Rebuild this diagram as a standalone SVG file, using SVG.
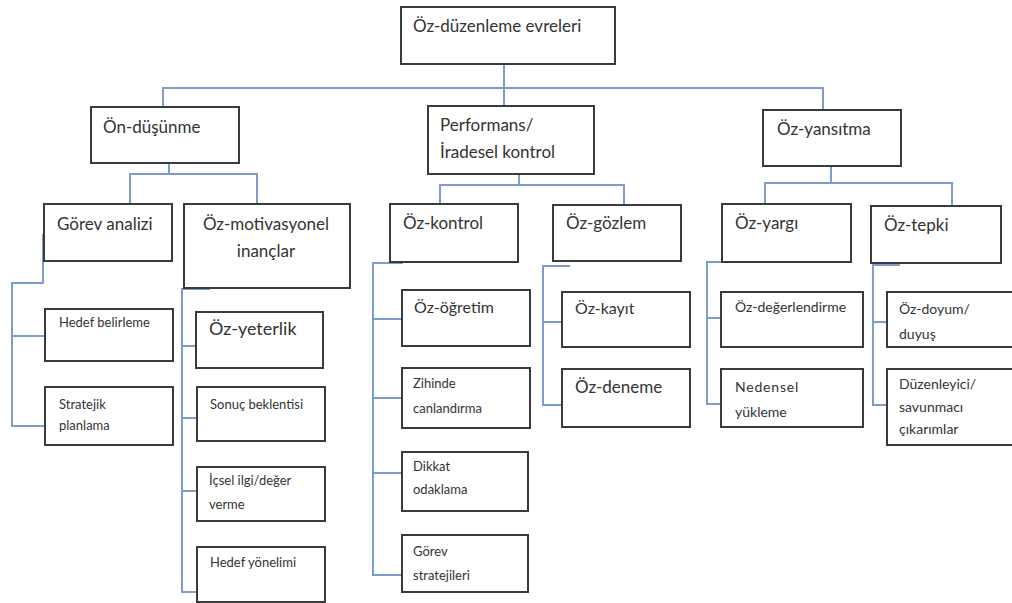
<svg xmlns="http://www.w3.org/2000/svg" width="1012" height="603" viewBox="0 0 1012 603">
<style>
rect.b{fill:#fff;stroke:#3a3a3a;stroke-width:2}
.c path{fill:none;stroke:#7c9ccb;stroke-width:2}
text{font-family:Lato,"Open Sans",sans-serif;fill:#333}
.l{font-size:17px}
.m{font-size:16px}
.s{font-size:13px}
.t{font-size:14px}
</style>
<rect width="1012" height="603" fill="#fff"/>
<g class="c" id="connectors">
<path d="M504 64V106M163 107V88H823V110"/>
<path d="M169 163V174M130 204V174H257V204"/>
<path d="M519 174V185M440 204V185H624V205"/>
<path d="M831 166V183M765 204V183H952V206"/>
<path d="M43 234V283H12V426H45M12 336H45"/>
<path d="M210 289H182V592H197M182 346H196M182 418H197M182 491H197"/>
<path d="M403 263H373V575H402M373 319H402M373 398H402M373 473H402"/>
<path d="M570 266H543V405H562M543 322H562"/>
<path d="M733 262H707V404H721M707 318H721"/>
<path d="M900 265H873V405H887M873 322H887"/>
</g>
<g id="n-root"><rect class="b" x="401" y="7" width="214" height="57"/><text class="l" x="413" y="32">Öz-düzenleme evreleri</text></g>
<g id="n-ondusunme"><rect class="b" x="91" y="107" width="148" height="56"/><text class="l" x="103" y="133">Ön-düşünme</text></g>
<g id="n-performans"><rect class="b" x="428" y="106" width="166" height="68"/><text class="l" x="440" y="131">Performans/</text><text class="l" x="440" y="158">İradesel kontrol</text></g>
<g id="n-ozyansitma"><rect class="b" x="763" y="110" width="138" height="56"/><text class="l" x="777" y="135">Öz-yansıtma</text></g>
<g id="n-gorevanalizi"><rect class="b" x="44" y="204" width="128" height="57"/><text class="l" x="57" y="230">Görev analizi</text></g>
<g id="n-ozmotivasyonel"><rect class="b" x="184" y="204" width="166" height="84"/><text class="l" x="266" y="230" text-anchor="middle">Öz-motivasyonel</text><text class="l" x="266" y="257" text-anchor="middle">inançlar</text></g>
<g id="n-ozkontrol"><rect class="b" x="390" y="204" width="128" height="58"/><text class="l" x="403" y="229">Öz-kontrol</text></g>
<g id="n-ozgozlem"><rect class="b" x="553" y="205" width="128" height="56"/><text class="l" x="566" y="229">Öz-gözlem</text></g>
<g id="n-ozyargi"><rect class="b" x="722" y="204" width="129" height="58"/><text class="l" x="735" y="229">Öz-yargı</text></g>
<g id="n-oztepki"><rect class="b" x="871" y="206" width="130" height="57"/><text class="l" x="884" y="231">Öz-tepki</text></g>
<g id="n-hedefbelirleme"><rect class="b" x="45" y="309" width="128" height="52"/><text class="s" x="59" y="327">Hedef belirleme</text></g>
<g id="n-stratejik"><rect class="b" x="45" y="387" width="128" height="58"/><text class="s" x="59" y="409">Stratejik</text><text class="s" x="59" y="430">planlama</text></g>
<g id="n-ozyeterlik"><rect class="b" x="196" y="312" width="127" height="56"/><text x="209" y="335" font-size="18" fill="#2e2e2e">Öz-yeterlik</text></g>
<g id="n-sonuc"><rect class="b" x="197" y="387" width="128" height="54"/><text class="s" x="210" y="409">Sonuç beklentisi</text></g>
<g id="n-icsel"><rect class="b" x="197" y="467" width="128" height="54"/><text class="s" x="209" y="485">İçsel ilgi/değer</text><text class="s" x="209" y="509">verme</text></g>
<g id="n-hedefyonelimi"><rect class="b" x="197" y="547" width="128" height="55"/><text class="s" x="210" y="567">Hedef yönelimi</text></g>
<g id="n-ozogretim"><rect class="b" x="402" y="290" width="128" height="56"/><text class="m" x="414" y="313">Öz-öğretim</text></g>
<g id="n-zihinde"><rect class="b" x="402" y="368" width="128" height="60"/><text class="s" x="413" y="388">Zihinde</text><text class="s" x="413" y="413">canlandırma</text></g>
<g id="n-dikkat"><rect class="b" x="402" y="452" width="126" height="59"/><text class="s" x="413" y="471">Dikkat</text><text class="s" x="413" y="494">odaklama</text></g>
<g id="n-gorevstratejileri"><rect class="b" x="402" y="535" width="126" height="57"/><text class="s" x="413" y="556">Görev</text><text class="s" x="413" y="580">stratejileri</text></g>
<g id="n-ozkayit"><rect class="b" x="562" y="292" width="128" height="55"/><text class="m" x="575" y="314">Öz-kayıt</text></g>
<g id="n-ozdeneme"><rect class="b" x="562" y="369" width="128" height="58"/><text class="l" x="575" y="393">Öz-deneme</text></g>
<g id="n-ozdegerlendirme"><rect class="b" x="721" y="292" width="142" height="55"/><text class="t" x="735" y="312">Öz-değerlendirme</text></g>
<g id="n-nedensel"><rect class="b" x="721" y="369" width="142" height="58"/><text class="t" x="735" y="392" letter-spacing="0.8">Nedensel</text><text class="t" x="735" y="417">yükleme</text></g>
<g id="n-ozdoyum"><rect class="b" x="887" y="292" width="130" height="55"/><text class="t" x="899" y="314">Öz-doyum/</text><text class="t" x="899" y="339">duyuş</text></g>
<g id="n-duzenleyici"><rect class="b" x="887" y="369" width="130" height="76"/><text class="t" x="899" y="389">Düzenleyici/</text><text class="t" x="899" y="412">savunmacı</text><text class="t" x="899" y="434">çıkarımlar</text></g>
</svg>
